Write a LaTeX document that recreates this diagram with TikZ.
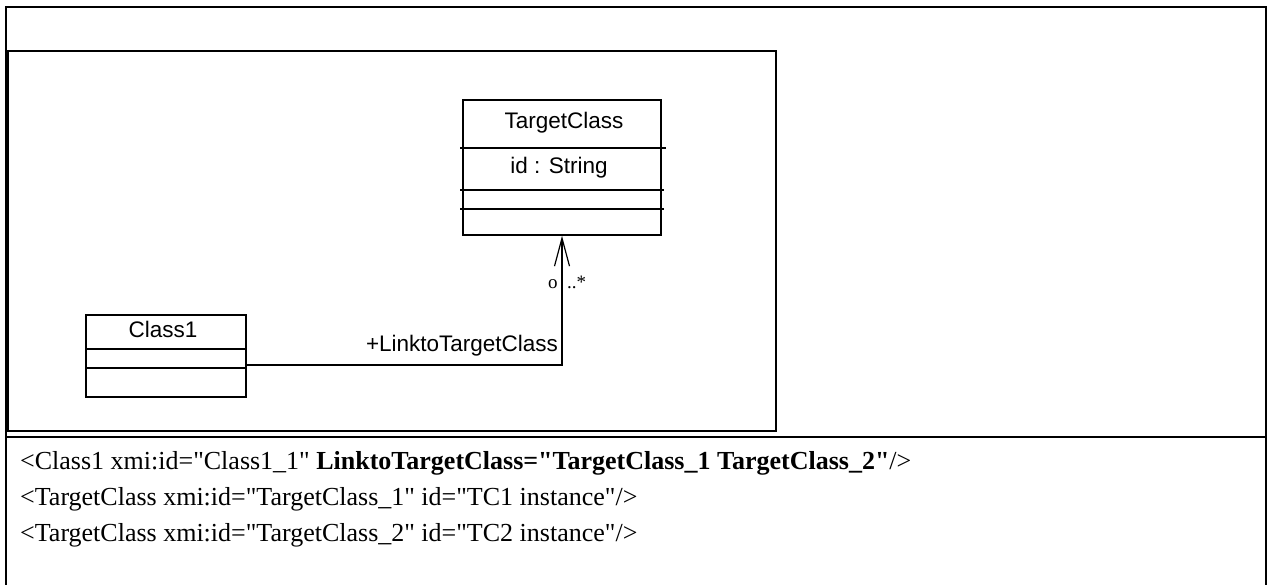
\documentclass[tikz,border=0pt]{standalone}
\usepackage{fontspec}
\setmainfont{Liberation Serif}
\setsansfont{Liberation Sans}
\newfontfamily\xmlfont{Liberation Serif}[Ligatures=TeXOff]
\usetikzlibrary{arrows.meta}
\begin{document}
\begin{tikzpicture}[x=1pt,y=-1pt,
  frame/.style={line width=2pt},
  classbox/.style={draw,line width=1.6pt,inner sep=0pt},
  sep/.style={line width=1.6pt},
  umltext/.style={font=\sffamily\fontsize{22.5}{26}\selectfont,inner sep=0pt,anchor=base},
  multtext/.style={font=\fontsize{19}{22}\selectfont,inner sep=0pt,anchor=base west},
  xmltext/.style={font=\xmlfont\fontsize{26}{30}\selectfont,inner sep=0pt,anchor=base west},
  assoc/.style={line width=1.6pt,-{Straight Barb[length=28pt,width=15pt,line width=1.2pt]}}]
\useasboundingbox (0,0) rectangle (1272,584);
% outer frame (bottom edge cut off)
\draw[frame] (6,590) -- (6,7) -- (1266,7) -- (1266,590);
\draw[frame] (6,437) -- (1266,437);
% inner diagram frame
\draw[frame] (8,51) rectangle (776,431);
% TargetClass
\node[classbox,minimum width=198pt,minimum height=135pt] (tc) at (562,167.5) {};
\node[umltext] (tcname) at (564,128) {TargetClass};
\node[umltext] (tcattr) at (559,173) {id : String};
\draw[sep] (460,148) -- (666,148);
\draw[sep] (460,190) -- (664,190);
\draw[sep] (460,209) -- (664,209);
% Class1
\node[classbox,minimum width=160pt,minimum height=82pt] (c1) at (166,356) {};
\node[umltext] (c1name) at (163,337) {Class1};
\draw[sep] (c1.west |- 0,349) -- (c1.east |- 0,349);
\draw[sep] (c1.west |- 0,368) -- (c1.east |- 0,368);
% association
\coordinate (bend) at (562,365);
\draw[assoc] (c1.east |- bend) -- (bend) -- (tc.south);
\node[umltext] (role) at (462,351) {+LinktoTargetClass};
\node[multtext] (mlow) at (548,288) {o};
\node[multtext] (mhigh) at (567,288) {..*};
% XMI text
\node[xmltext] (l1) at (20,469) {<Class1 xmi:id="Class1\_1" \textbf{LinktoTargetClass="TargetClass\_1 TargetClass\_2"}/>};
\node[xmltext] (l2) at (20,505) {<TargetClass xmi:id="TargetClass\_1" id="TC1 instance"/>};
\node[xmltext] (l3) at (20,541) {<TargetClass xmi:id="TargetClass\_2" id="TC2 instance"/>};
\end{tikzpicture}
\end{document}
